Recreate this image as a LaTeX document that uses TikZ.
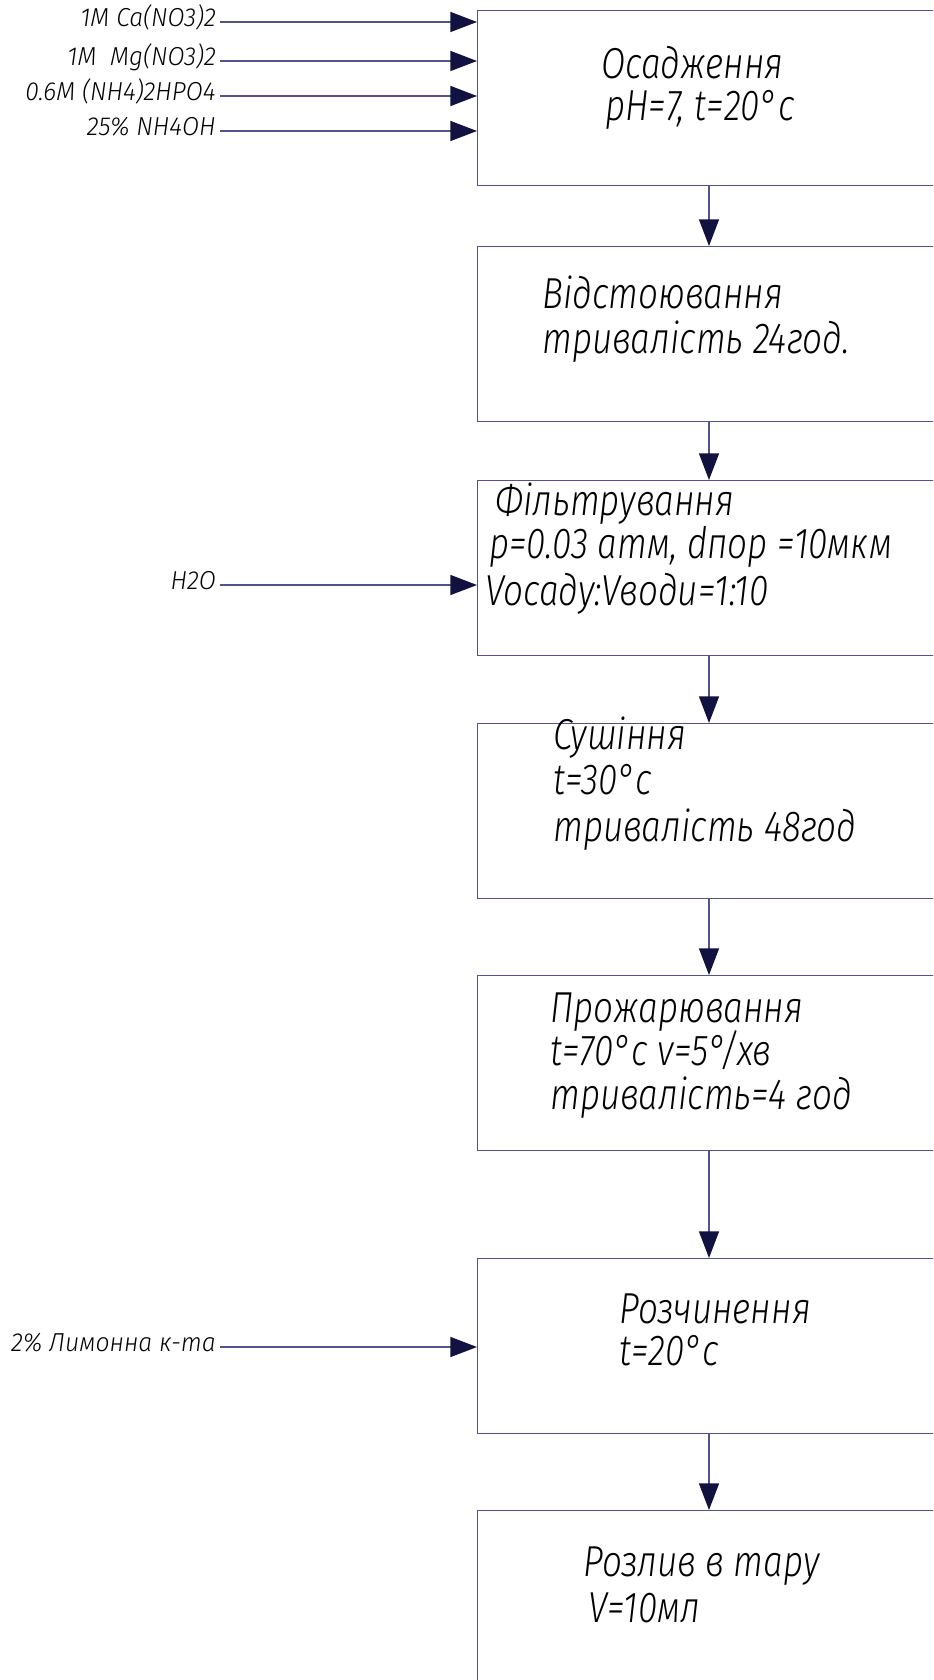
\documentclass[tikz,border=0pt]{standalone}
\usepackage{fontspec}
\newfontfamily\gost[FakeStretch=0.81]{Fira Sans Light Italic}
\newfontfamily\gostlabel[FakeStretch=0.95]{Fira Sans Light Italic}
\usetikzlibrary{arrows.meta}
\definecolor{linecol}{RGB}{82,82,140}
\definecolor{headcol}{RGB}{18,18,64}

\begin{document}
\begin{tikzpicture}[x=0.75pt,y=-0.75pt,
  procbox/.style={draw=linecol, line width=1.1pt, anchor=north west,
    minimum width=450pt, minimum height=131pt, inner sep=0pt},
  boxtext/.style={anchor=west, inner sep=0pt, text height=0.69em, text depth=0pt,
    font=\gost\fontsize{32.5}{33}\selectfont},
  feedlabel/.style={anchor=east, inner xsep=3pt, inner ysep=0pt,
    text height=0.69em, text depth=0pt, font=\gostlabel\fontsize{19.5}{20}\selectfont},
  flow/.style={draw=linecol, line width=1.1pt,
    -{Triangle[length=20pt,width=15pt,color=headcol]}},
]
\useasboundingbox (0,0) rectangle (933,1680);
\fill[white] (0,0) rectangle (933,1680);
\clip (0,0) rectangle (933,1680);

% process stages
\node[procbox] (b1) at (477,10) {};
\node[procbox] (b2) at (477,246) {};
\node[procbox] (b3) at (477,480) {};
\node[procbox] (b4) at (477,723) {};
\node[procbox] (b5) at (477,975) {};
\node[procbox] (b6) at (477,1258) {};
\node[procbox, minimum height=150pt] (b7) at (477,1510) {};

% stage texts
\node[boxtext] (t1a) at (601,74) {Осадження};
\node[boxtext] (t1b) at (605,116) {pH=7, t=20°c};

\node[boxtext] (t2a) at (542,304) {Відстоювання};
\node[boxtext] (t2b) at (542,349) {тривалість 24год.};

\node[boxtext] (t3a) at (495,511) {Фільтрування};
\node[boxtext] (t3b) at (489,554) {p=0.03 атм, dпор =10мкм};
\node[boxtext] (t3c) at (485,601) {Vосаду:Vводи=1:10};

\node[boxtext] (t4a) at (553,745) {Сушіння};
\node[boxtext] (t4b) at (553,790) {t=30°c};
\node[boxtext] (t4c) at (553,837) {тривалість 48год};

\node[boxtext] (t5a) at (550,1018) {Прожарювання};
\node[boxtext] (t5b) at (550,1061) {t=70°c v=5°/хв};
\node[boxtext] (t5c) at (550,1105) {тривалість=4 год};

\node[boxtext] (t6a) at (619,1319) {Розчинення};
\node[boxtext] (t6b) at (619,1361) {t=20°c};

\node[boxtext] (t7a) at (583,1572) {Розлив в тару};
\node[boxtext] (t7b) at (588,1618) {V=10мл};

% feed streams
\node[feedlabel] (f1) at (220,22) {1M Ca(NO3)2};
\node[feedlabel] (f2) at (220,61) {1M~~Mg(NO3)2};
\node[feedlabel] (f3) at (220,96) {0.6M (NH4)2HPO4};
\node[feedlabel] (f4) at (220,131) {25\% NH4OH};
\node[feedlabel] (f5) at (220,585) {H2O};
\node[feedlabel] (f6) at (220,1347) {2\% Лимонна к-та};

\foreach \f in {f1,f2,f3,f4}
  \draw[flow] (\f.east) -- (\f.east -| b1.west);
\draw[flow] (f5.east) -- (f5.east -| b3.west);
\draw[flow] (f6.east) -- (f6.east -| b6.west);

% main flow line
\coordinate (axis) at (709,0);
\draw[flow] (b1.south -| axis) -- (b2.north -| axis);
\draw[flow] (b2.south -| axis) -- (b3.north -| axis);
\draw[flow] (b3.south -| axis) -- (b4.north -| axis);
\draw[flow] (b4.south -| axis) -- (b5.north -| axis);
\draw[flow] (b5.south -| axis) -- (b6.north -| axis);
\draw[flow] (b6.south -| axis) -- (b7.north -| axis);
\end{tikzpicture}
\end{document}
